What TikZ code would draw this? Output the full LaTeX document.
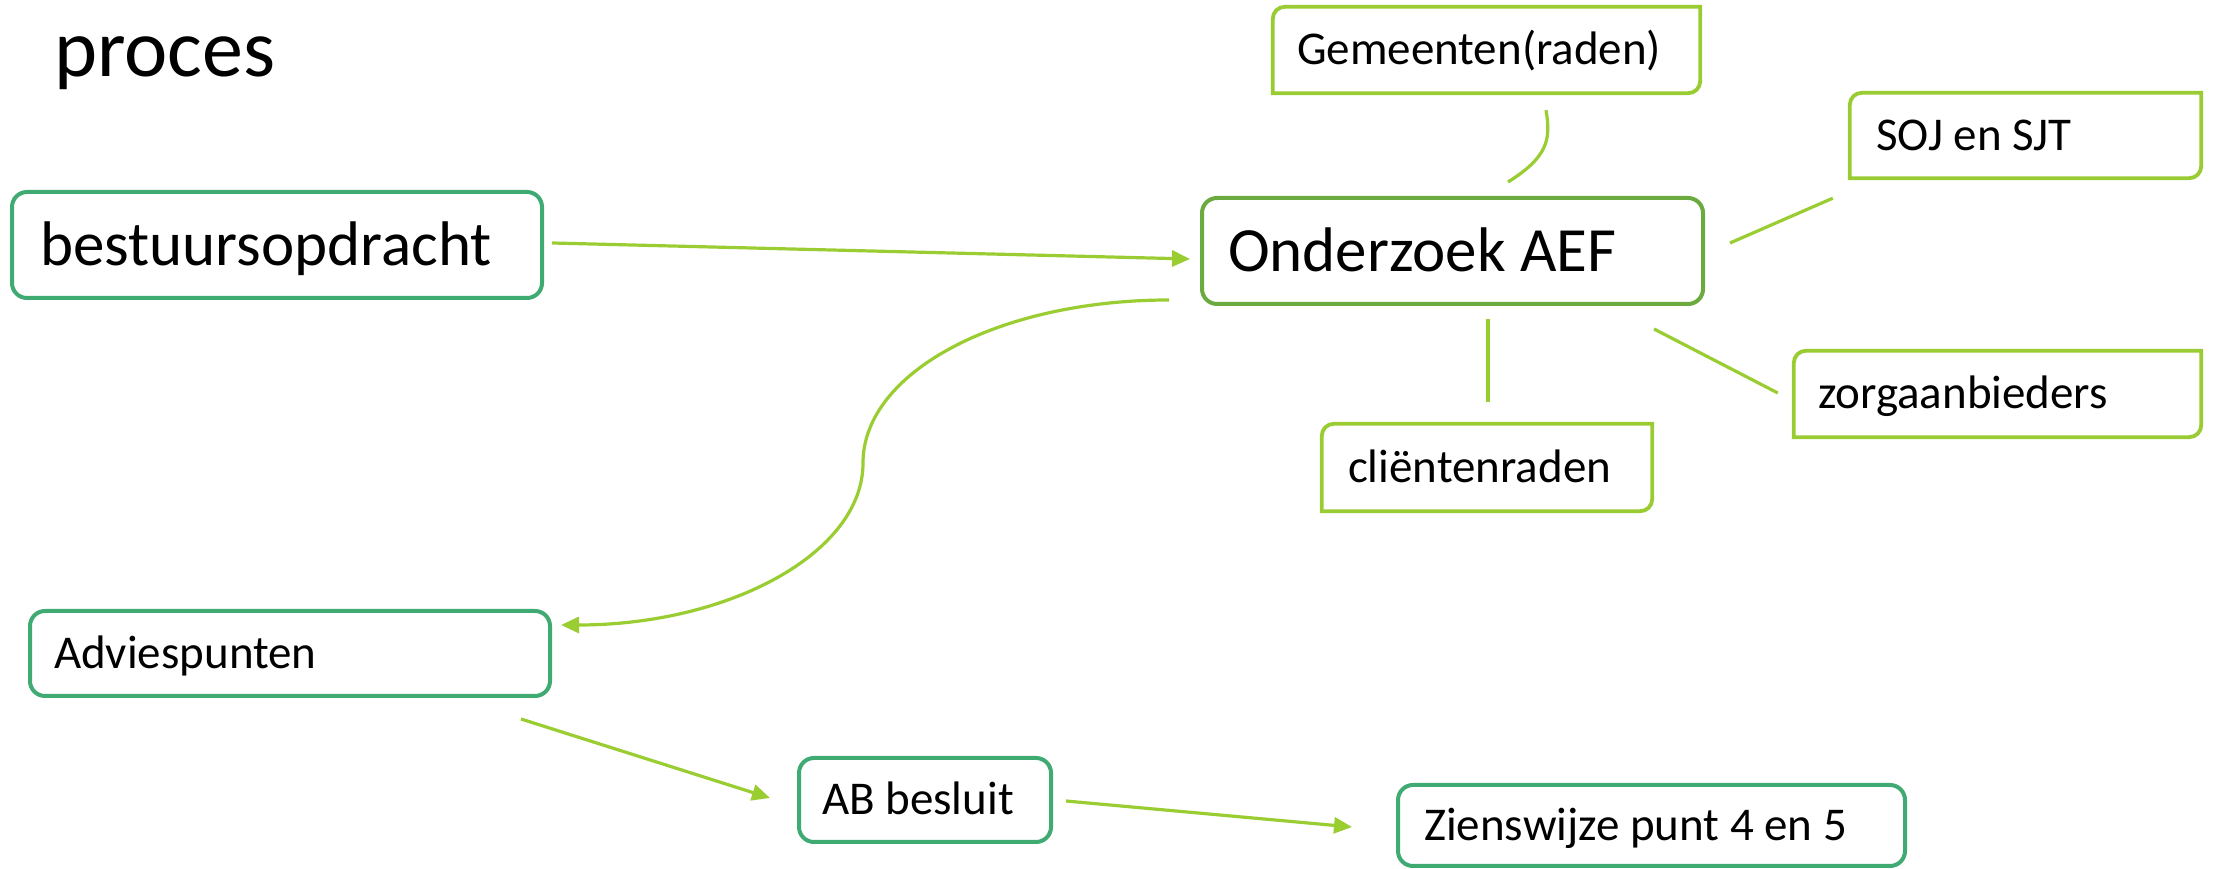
\documentclass[tikz,border=0pt]{standalone}
\usepackage{fontspec}
\setmainfont{Carlito}
\usetikzlibrary{arrows.meta}
\definecolor{dkg}{HTML}{3FAB72}
\definecolor{mdg}{HTML}{6AAA3E}
\definecolor{lg}{HTML}{99CC33}
\definecolor{cn}{HTML}{9ACD32}
\tikzset{
 bx/.style={rectangle, inner ysep=0pt, align=left, text depth=0pt, execute at begin node={\spaceskip=0pt\xspaceskip=0pt\relax}},
 dkbox/.style={bx, draw=dkg, line width=4pt, rounded corners=15pt},
 mdbox/.style={bx, draw=mdg, line width=4pt, rounded corners=15pt},
 lgbox/.style={bx},
 lgline/.style={draw=lg, line width=3.8pt},
 conn/.style={draw=cn, line width=3.2pt},
 arr/.style={conn, -{Triangle[length=18pt,width=16pt]}},
 bigtxt/.style={font=\fontsize{63}{70}\selectfont, text height=42pt},
 smalltxt/.style={font=\fontsize{47}{54}\selectfont, text height=30pt},
}
\newcommand\halfround[1]{\draw[lgline] (#1.south west) -- ([yshift=-12pt]#1.north west) arc[start angle=180,end angle=90,radius=12pt] -- (#1.north east) -- ([yshift=12pt]#1.south east) arc[start angle=0,end angle=-90,radius=12pt] -- cycle;}
\begin{document}
\begin{tikzpicture}[x=1pt,y=1pt]
\useasboundingbox (0,0) rectangle (2218,869);
\fill[white] (0,0) rectangle (2218,869);
\node[anchor=base west, font=\fontsize{82}{90}\selectfont, inner sep=0pt] (title) at (54,792) {proces};
\node[dkbox, bigtxt, inner xsep=28pt, text width=474pt, minimum height=106pt] (best) at (277,624) {bestuursopdracht};
\node[mdbox, bigtxt, inner xsep=26pt, text width=449pt, minimum height=106pt] (onder) at (1452.5,618) {Onderzoek AEF};
\node[lgbox, smalltxt, inner xsep=24pt, text width=379pt, minimum height=86pt] (gem) at (1486.5,819) {Gemeenten(raden)};
\node[lgbox, smalltxt, inner xsep=26pt, text width=299pt, minimum height=85pt] (soj) at (2025.5,733.5) {SOJ en SJT};
\node[lgbox, smalltxt, inner xsep=24pt, text width=359pt, minimum height=86pt] (zorg) at (1997.5,475) {zorgaanbieders};
\node[lgbox, smalltxt, inner xsep=26pt, text width=278pt, minimum height=87pt] (client) at (1487,401.5) {cliëntenraden};
\node[dkbox, smalltxt, inner xsep=24pt, text width=472pt, minimum height=85pt] (advies) at (290,215.5) {Adviespunten};
\node[dkbox, smalltxt, inner xsep=23pt, text width=206pt, minimum height=84pt] (ab) at (925,69) {AB besluit};
\node[dkbox, smalltxt, inner xsep=26pt, text width=455pt, minimum height=81pt] (zien) at (1651.5,43.5) {Zienswijze punt 4 en 5};
\halfround{gem}
\halfround{soj}
\halfround{zorg}
\halfround{client}
% connectors
\draw[arr] ([shift={(8,2)}]best.east) -- ([shift={(-10,-8)}]onder.west);
\draw[conn] ([shift={(59.5,-17)}]gem.south) .. controls +(5,-29) and +(40,25) .. ([shift={(55.5,14)}]onder.north);
\draw[conn] ([shift={(25,8)}]onder.east) -- ([shift={(-17,-20)}]soj.south west);
\draw[conn] ([shift={(-51,-23)}]onder.south east) -- ([shift={(-16,1)}]zorg.west);
\draw[conn] ([shift={(35.5,-13)}]onder.south) -- ([shift={(1,22)}]client.north);
\coordinate (mid) at (863,406);
\draw[arr] ([shift={(-31,6)}]onder.south west) .. controls +(-170,0) and +(0,91) .. (mid) .. controls +(0,-90) and +(168,0) .. ([shift={(9,28.5)}]advies.east);
\draw[arr] ([shift={(-31,-21)}]advies.south east) -- ([shift={(-27,2)}]ab.west);
\draw[arr] ([shift={(13,-1)}]ab.east) -- ([shift={(-44,-1.5)}]zien.west);
\end{tikzpicture}
\end{document}
